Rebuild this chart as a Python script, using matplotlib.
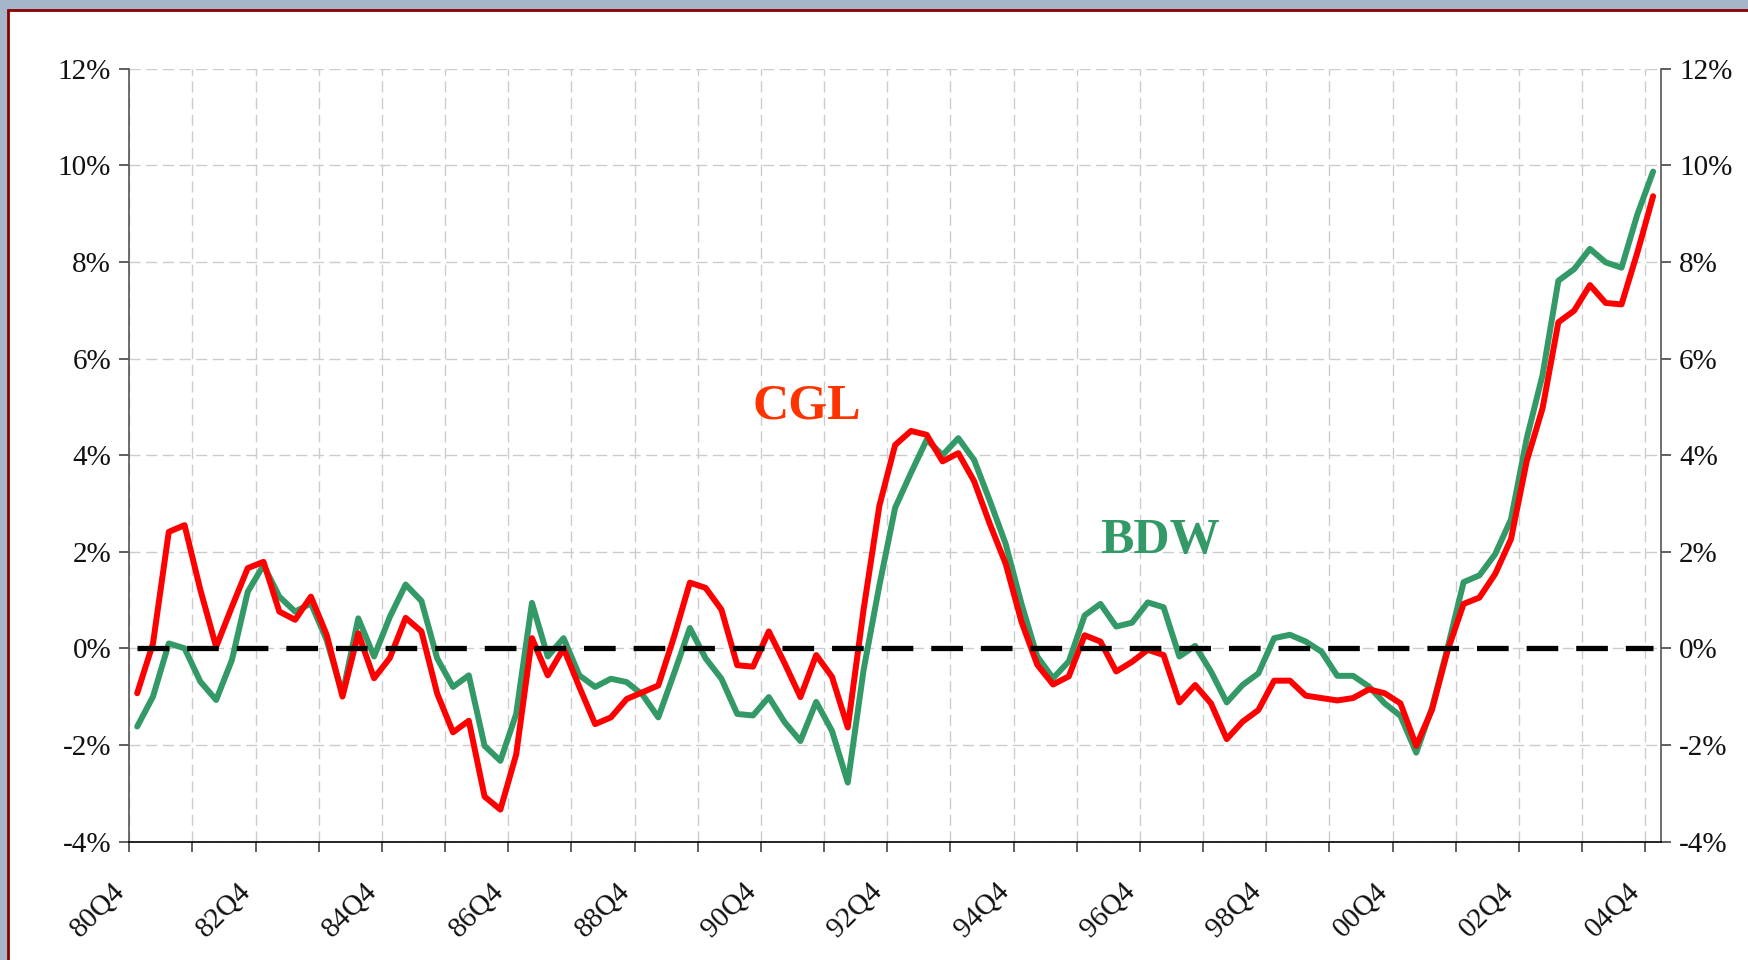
import numpy as np
import matplotlib.pyplot as plt
from matplotlib.patches import Rectangle

plt.rcParams['font.family'] = ['Liberation Serif', 'DejaVu Serif']

# quarterly values, 80Q4 .. 04Q4 (percent)
cgl = [-0.93, 0.10, 2.41, 2.55, 1.21, 0.03, 0.86, 1.66, 1.79, 0.76,
       0.59, 1.07, 0.28, -1.00, 0.31, -0.62, -0.20, 0.63, 0.35, -0.94,
       -1.74, -1.50, -3.07, -3.34, -2.20, 0.21, -0.56, 0.00, -0.80, -1.57,
       -1.43, -1.05, -0.91, -0.77, 0.24, 1.36, 1.25, 0.80, -0.35, -0.38,
       0.35, -0.31, -1.01, -0.14, -0.59, -1.64, 0.80, 2.95, 4.21, 4.50,
       4.42, 3.87, 4.04, 3.46, 2.57, 1.75, 0.55, -0.34, -0.75, -0.58,
       0.27, 0.14, -0.48, -0.28, -0.03, -0.14, -1.12, -0.76, -1.14, -1.88,
       -1.52, -1.28, -0.67, -0.67, -0.98, -1.03, -1.08, -1.03, -0.85, -0.93,
       -1.14, -2.02, -1.27, -0.03, 0.92, 1.05, 1.54, 2.26, 3.88, 4.97,
       6.75, 6.99, 7.52, 7.15, 7.12, 8.19, 9.36]

bdw = [-1.62, -1.00, 0.10, 0.00, -0.69, -1.07, -0.24, 1.17, 1.72, 1.07,
       0.76, 0.93, 0.17, -0.95, 0.62, -0.17, 0.65, 1.32, 0.98, -0.21,
       -0.80, -0.56, -2.02, -2.33, -1.36, 0.94, -0.17, 0.21, -0.56, -0.80,
       -0.63, -0.70, -0.96, -1.43, -0.52, 0.42, -0.21, -0.63, -1.36, -1.39,
       -1.01, -1.53, -1.92, -1.11, -1.71, -2.78, -0.45, 1.30, 2.91, 3.63,
       4.32, 4.00, 4.35, 3.90, 3.05, 2.16, 0.92, -0.17, -0.62, -0.27,
       0.68, 0.92, 0.45, 0.53, 0.95, 0.85, -0.17, 0.05, -0.48, -1.12,
       -0.76, -0.52, 0.21, 0.28, 0.14, -0.07, -0.57, -0.57, -0.79, -1.14,
       -1.40, -2.16, -1.23, 0.03, 1.37, 1.51, 1.95, 2.67, 4.35, 5.66,
       7.61, 7.85, 8.27, 7.99, 7.88, 8.98, 9.87]

xlabels = ['80Q4', '82Q4', '84Q4', '86Q4', '88Q4', '90Q4', '92Q4',
           '94Q4', '96Q4', '98Q4', '00Q4', '02Q4', '04Q4']
yticks = [-4, -2, 0, 2, 4, 6, 8, 10, 12]
ylabels = ['-4%', '-2%', '0%', '2%', '4%', '6%', '8%', '10%', '12%']

W, H = 1748, 960
fig = plt.figure(figsize=(W / 100, H / 100), dpi=100)
fig.patch.set_facecolor('#a5b6ca')
# white slide panel with dark red border
fig.patches.append(Rectangle((8 / W, -0.05), 1.1, 1 - 10 / H + 0.05,
                             transform=fig.transFigure, facecolor='white',
                             edgecolor='#8b0000', lw=2, zorder=-10))

ax = fig.add_axes([129.3 / W, 1 - 841.5 / H, (1661 - 129.3) / W, (841.5 - 68.7) / H])
ax.set_facecolor('none')

x = np.arange(len(cgl)) + 0.5
ax.plot(x, bdw, color='#339966', lw=4.3, solid_capstyle='round', zorder=3)
ax.plot(x, cgl, color='#ff0000', lw=4.3, solid_capstyle='round', zorder=4)
ax.plot(x, np.zeros(len(cgl)), color='black', lw=3.8, dashes=(6.0, 3.4), zorder=5)

ax.text(42.9, 4.75, 'CGL', color='#ff3300', fontsize=36, fontweight='bold',
        ha='center', va='baseline')
ax.text(65.3, 1.97, 'BDW', color='#339966', fontsize=36, fontweight='bold',
        ha='center', va='baseline')

ax.set_xlim(0, 97)
ax.set_ylim(-4, 12)

xt = np.arange(0, 97, 4)
ax.set_xticks(xt)
ax.set_xticklabels([xlabels[i // 8] if i % 8 == 0 else '' for i in xt],
                   rotation=45, ha='right')
ax.set_yticks(yticks)
ax.set_yticklabels(ylabels)

ax.tick_params(axis='x', direction='out', length=7, width=1.2, labelsize=21, pad=19,
               colors='#444444', labelcolor='#111111')
ax.tick_params(axis='y', direction='out', length=7, width=1.2, labelsize=21, pad=6,
               left=True, right=True, labelleft=True, labelright=True,
               colors='#444444', labelcolor='#111111')

ax.grid(True, color='#cccccc', lw=1, linestyle=(0, (8, 4)), zorder=1)
ax.set_axisbelow(True)

ax.spines['top'].set_visible(False)
for s in ['left', 'right']:
    ax.spines[s].set_color('#555555')
    ax.spines[s].set_linewidth(1.2)
ax.spines['bottom'].set_color('black')
ax.spines['bottom'].set_linewidth(1.2)

fig.savefig('out.png', dpi=100, facecolor=fig.get_facecolor())
